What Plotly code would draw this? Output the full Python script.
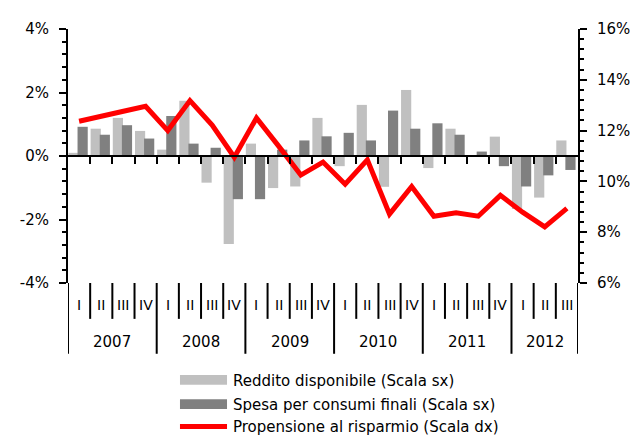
import plotly.graph_objects as go

# ---- data ----
quarters = ["I", "II", "III", "IV"] * 5 + ["I", "II", "III"]
years = ["2007", "2008", "2009", "2010", "2011", "2012"]
quarters_per_year = [4, 4, 4, 4, 4, 3]

reddito = [0.10, 0.86, 1.20, 0.79, 0.20, 1.74, -0.84, -2.77, 0.39, -1.01, -0.96, 1.20,
           -0.32, 1.61, -0.97, 2.08, -0.38, 0.86, 0.00, 0.61, -1.67, -1.31, 0.49]
spesa = [0.92, 0.67, 0.97, 0.55, 1.26, 0.39, 0.26, -1.36, -1.36, 0.20, 0.49, 0.62,
         0.73, 0.49, 1.43, 0.86, 1.03, 0.67, 0.14, -0.32, -0.96, -0.61, -0.44]
propensione = [12.37, 12.54, 12.76, 12.96, 12.00, 13.18, 12.22, 10.95, 12.50, 11.39, 10.25, 10.76,
               9.89, 10.85, 8.71, 9.80, 8.63, 8.76, 8.63, 9.45, 8.79, 8.21, 8.94]

left_ticks = [-4, -2, 0, 2, 4]
left_ticktext = ["-4%", "-2%", "0%", "2%", "4%"]
right_ticks = [6, 8, 10, 12, 14, 16]
right_ticktext = ["6%", "8%", "10%", "12%", "14%", "16%"]

series_names = ["Reddito disponibile (Scala sx)",
                "Spesa per consumi finali (Scala sx)",
                "Propensione al risparmio (Scala dx)"]

LIGHT = "#c0c0c0"
DARK = "#808080"
RED = "#ff0000"
FONT = "DejaVu Sans, Liberation Sans, Arial, sans-serif"

OFF = 8  # page body margin of the browser
W, H = 634, 435
ML, MT = 47, 13
PW, PH = 542, 262
MR, MB = W - ML - PW, H - MT - PH


def px_x(p):  # page pixel -> paper x
    return (p - OFF - ML) / PW


def px_y(p):  # page pixel -> paper y
    return (MT + PH - (p - OFF)) / PH


n = len(quarters)
xs = list(range(n))

fig = go.Figure()
fig.add_trace(go.Bar(x=xs, y=reddito, name=series_names[0], marker_color=LIGHT,
                     marker_line_width=0, width=0.46, offset=-0.48, showlegend=False))
fig.add_trace(go.Bar(x=xs, y=spesa, name=series_names[1], marker_color=DARK,
                     marker_line_width=0, width=0.46, offset=-0.07, showlegend=False))
fig.add_trace(go.Scatter(x=xs, y=propensione, name=series_names[2], mode="lines",
                         line=dict(color=RED, width=5), yaxis="y2", showlegend=False))

fig.update_layout(
    width=W, height=H,
    margin=dict(l=ML, r=MR, t=MT, b=MB, pad=0),
    paper_bgcolor="white", plot_bgcolor="white",
    barmode="overlay",
    font=dict(family=FONT, size=15, color="black"),
    xaxis=dict(range=[-0.5, n - 0.5], anchor="free", position=0.5,
               showline=True, linecolor="black", linewidth=2,
               tickmode="array", tickvals=[i + 0.5 for i in range(n - 1)],
               ticks="outside", ticklen=7, tickwidth=2, tickcolor="black",
               showticklabels=False, showgrid=False, zeroline=False),
    yaxis=dict(range=[-4, 4], showline=True, linecolor="black", linewidth=2,
               tickmode="array", tickvals=left_ticks, ticktext=left_ticktext,
               ticks="outside", ticklen=7, tickwidth=2, tickcolor="black",
               ticklabelstandoff=7,
               minor=dict(tickmode="linear", tick0=-4, dtick=0.4, ticks="outside",
                          ticklen=4, tickwidth=2, tickcolor="black", showgrid=False),
               showgrid=False, zeroline=False, tickfont=dict(size=15)),
    yaxis2=dict(range=[6, 16], overlaying="y", side="right", anchor="x",
                showline=True, linecolor="black", linewidth=2,
                tickmode="array", tickvals=right_ticks, ticktext=right_ticktext,
                ticks="outside", ticklen=7, tickwidth=2, tickcolor="black",
                ticklabelstandoff=7,
                minor=dict(tickmode="linear", tick0=6, dtick=0.4, ticks="outside",
                           ticklen=4, tickwidth=2, tickcolor="black", showgrid=False),
                showgrid=False, zeroline=False, tickfont=dict(size=15)),
)

shapes = []
annotations = []

# category axis below the plot: quarter separators, year separators, labels
y_q_end = px_y(320)
y_y_end = px_y(356)
year_starts = []
s = 0
for k in quarters_per_year:
    year_starts.append(s)
    s += k
year_bounds = set([b - 0.5 for b in year_starts] + [n - 0.5])

for b in [i - 0.5 for i in range(n + 1)]:
    y1 = y_y_end if b in year_bounds else y_q_end
    shapes.append(dict(type="line", xref="x", yref="paper", x0=b, x1=b, y0=0, y1=y1,
                       line=dict(color="black", width=2)))

for i, q in enumerate(quarters):
    annotations.append(dict(text=q, xref="x", yref="paper", x=i, y=px_y(306),
                            showarrow=False, xanchor="center", yanchor="middle",
                            font=dict(size=14)))
for st, k, yr in zip(year_starts, quarters_per_year, years):
    annotations.append(dict(text=yr, xref="x", yref="paper", x=st + (k - 1) / 2,
                            y=px_y(344), showarrow=False, xanchor="center",
                            yanchor="middle", font=dict(size=15)))

# legend (drawn manually to get wide swatches)
leg_rows = [383, 408, 431]
for name, row, kind, col in zip(series_names, leg_rows, ["bar", "bar", "line"], [LIGHT, DARK, RED]):
    if kind == "bar":
        shapes.append(dict(type="rect", xref="paper", yref="paper",
                           x0=px_x(174), x1=px_x(224), y0=px_y(row - 5), y1=px_y(row + 5),
                           fillcolor=col, line=dict(width=0)))
    else:
        shapes.append(dict(type="line", xref="paper", yref="paper",
                           x0=px_x(174), x1=px_x(224), y0=px_y(row), y1=px_y(row),
                           line=dict(color=col, width=5)))
    annotations.append(dict(text=name, xref="paper", yref="paper", x=px_x(228),
                            y=px_y(row + 1), showarrow=False, xanchor="left",
                            yanchor="middle", font=dict(size=15)))

fig.update_layout(shapes=shapes, annotations=annotations)
fig.write_html("out.html")
